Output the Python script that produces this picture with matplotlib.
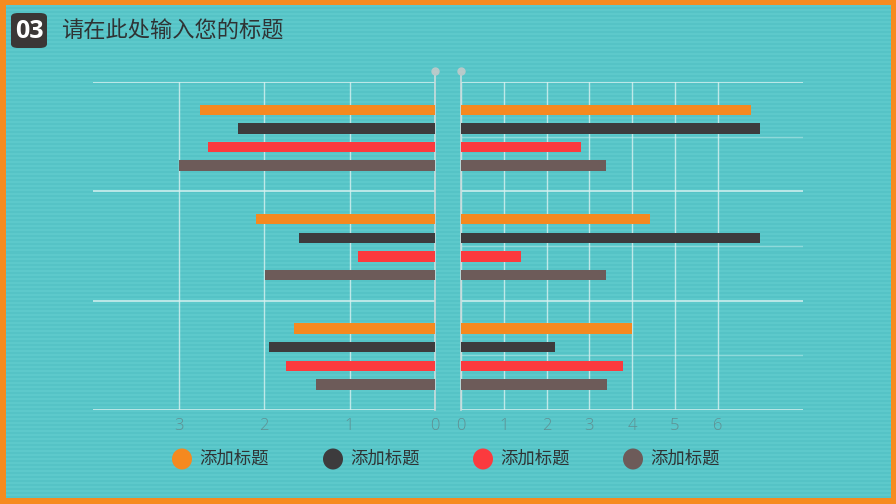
import numpy as np
import matplotlib.pyplot as plt
from matplotlib.patches import FancyBboxPatch, Ellipse

plt.rcParams['font.family'] = ['Noto Sans CJK SC', 'DejaVu Sans']

# data
groups = ['A', 'B', 'C']
series_names = ['添加标题', '添加标题', '添加标题', '添加标题']
colors = ['#F5891F', '#3D3B3D', '#FB3A3E', '#6D5B59']
left_values = [
    [2.75, 2.09, 1.65],
    [2.30, 1.59, 1.94],
    [2.65, 0.90, 1.74],
    [3.00, 1.99, 1.39],
]
right_values = [
    [6.78, 4.42, 4.00],
    [7.00, 7.00, 2.20],
    [2.80, 1.40, 3.80],
    [3.39, 3.39, 3.41],
]
left_ticks = [0, 1, 2, 3]
right_ticks = [0, 1, 2, 3, 4, 5, 6]
title = '请在此处输入您的标题'
badge = '03'

fig = plt.figure(figsize=(8.96, 5.04), dpi=100)
fig.patch.set_facecolor('#F68B1F')

# striped teal background inside the orange frame
bg = fig.add_axes([6 / 896, 6 / 504, 884 / 896, 493 / 504])
rows = np.arange(246) % 2
stripe = np.where(rows[:, None] == 0, 0.0, 1.0) * np.ones((1, 4))
bg.imshow(stripe, aspect='auto', cmap=plt.matplotlib.colors.ListedColormap(['#5DC9CB', '#55C3C6']),
          interpolation='nearest')
bg.set_axis_off()

grid_col = '#D9F2F1'
tick_col = '#5F8F92'
offsets = [-0.245, -0.075, 0.095, 0.265]
bar_h = 0.095
y = np.arange(len(groups))

axl = fig.add_axes([93 / 896, 1 - 410 / 504, (435 - 93) / 896, (410 - 82) / 504])
axr = fig.add_axes([461 / 896, 1 - 410 / 504, (803 - 461) / 896, (410 - 82) / 504])

for ax, vals, ticks, xlim in [(axl, left_values, left_ticks, (4, 0)),
                              (axr, right_values, right_ticks, (0, 8))]:
    ax.set_facecolor('none')
    for i in range(4):
        ax.barh(y + offsets[i], vals[i], height=bar_h, color=colors[i], zorder=3)
    ax.set_xlim(*xlim)
    ax.set_ylim(2.5, -0.5)
    for t in ticks:
        ax.axvline(t, color=grid_col, lw=1, alpha=0.8, zorder=1)
    for b in [-0.5, 0.5, 1.5, 2.5]:
        ax.axhline(b, color=grid_col, lw=1.2, alpha=0.9, zorder=1)
    ax.set_xticks(ticks)
    ax.set_yticks([])
    ax.tick_params(axis='x', length=0, pad=6, labelsize=12, labelcolor=tick_col)
    for lab in ax.get_xticklabels():
        lab.set_family(['Open Sans', 'DejaVu Sans'])
        lab.set_fontweight('light')
    for s in ax.spines.values():
        s.set_visible(False)

# category-centre lines on the right panel
for c in y:
    axr.axhline(c, color=grid_col, lw=1, alpha=0.4, zorder=1)

# zero axes with small dots on top
for ax in (axl, axr):
    ax.plot([0, 0], [2.5, -0.6], color='#C9DCDC', lw=1.2, zorder=2, clip_on=False)
    ax.plot([0], [-0.6], 'o', ms=5, color='#B8CACA', zorder=4, clip_on=False)

# title badge
fig.patches.append(FancyBboxPatch((11 / 896, 1 - 48 / 504), 36 / 896, 35 / 504,
                                  boxstyle='round,pad=0,rounding_size=0.008',
                                  transform=fig.transFigure, facecolor='#3B3736',
                                  edgecolor='none'))
fig.text(29 / 896, 1 - 31 / 504, badge, color='white', fontsize=18, fontweight='bold',
         ha='center', va='center', family=['Open Sans', 'DejaVu Sans'])
fig.text(61 / 896, 1 - 31 / 504, title, color='#2F3334', fontsize=16,
         ha='left', va='center')

# legend
leg_x = [182, 333, 483, 633]
for xc, name, col in zip(leg_x, series_names, colors):
    fig.patches.append(Ellipse((xc / 896, 1 - 459 / 504), 20 / 896, 21 / 504,
                               transform=fig.transFigure, facecolor=col, edgecolor='none'))
    fig.text((xc + 17) / 896, 1 - 459 / 504, name, color='#2F3334', fontsize=12.5,
             ha='left', va='center')

fig.savefig('out.png', dpi=100, facecolor=fig.get_facecolor())
